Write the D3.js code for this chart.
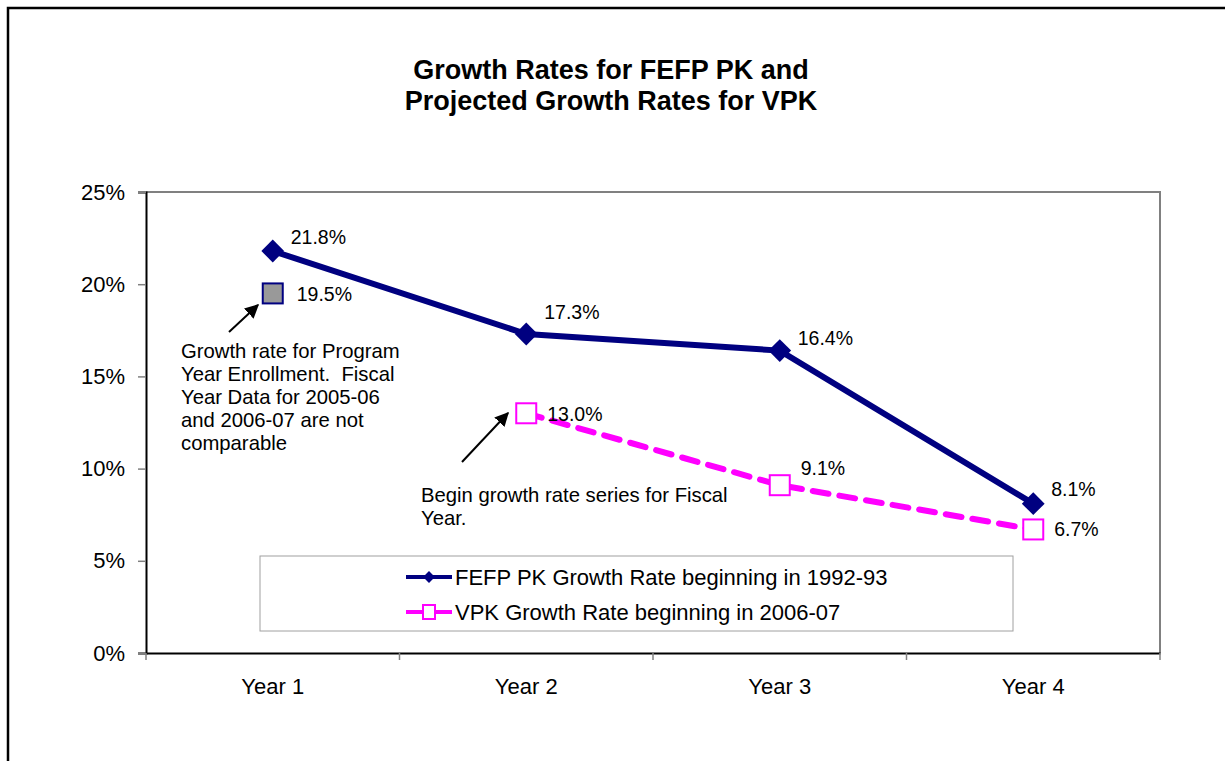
<!DOCTYPE html>
<html lang="en">
<head>
    <meta charset="UTF-8">
    <title>Growth Rates for FEFP PK and Projected Growth Rates for VPK</title>
    <script src="https://d3js.org/d3.v7.min.js"></script>
    <style>
        body { margin: 0; background: white; }
        text {
            font-family: 'Liberation Sans', Arial, sans-serif;
            fill: black;
            white-space: pre;
        }
    </style>
</head>
<body>
<script>
    const width = 1225;
    const height = 761;

    const years = ["Year 1", "Year 2", "Year 3", "Year 4"];
    const fefpRates = [21.8, 17.3, 16.4, 8.1];
    const vpkRates = [null, 13.0, 9.1, 6.7];
    const programYears = ["Year 1"];
    const programRates = [19.5];
    const yTicks = [0, 5, 10, 15, 20, 25];
    const seriesNames = ["FEFP PK Growth Rate beginning in 1992-93", "VPK Growth Rate beginning in 2006-07"];
    const titleLines = ["Growth Rates for FEFP PK and", "Projected Growth Rates for VPK"];
    const noteProgram = ["Growth rate for Program", "Year Enrollment.  Fiscal", "Year Data for 2005-06", "and 2006-07 are not", "comparable"];
    const noteFiscal = ["Begin growth rate series for Fiscal", "Year."];

    // label nudges (layout only)
    const fefpLabelDy = [-14, -22, -13, -15];
    const vpkLabelDy = [0, 1, -17, 0];

    const plot = {left: 146, right: 1160, top: 192, bottom: 653};
    const navy = "#000080";
    const pink = "#FF00FF";

    const svg = d3.select("body").append("svg").attr("width", width).attr("height", height);

    // outer frame
    svg.append("rect").attr("x", 8).attr("y", 8).attr("width", 1300).attr("height", 900)
        .attr("fill", "white").attr("stroke", "black").attr("stroke-width", 2.5);

    // title
    svg.append("g").selectAll("text").data(titleLines).join("text")
        .attr("x", 611).attr("y", (d, i) => 79 + i * 31)
        .attr("text-anchor", "middle")
        .style("font-weight", "bold").style("font-size", "27px")
        .text(d => d);

    const x = d3.scaleBand().domain(years).range([plot.left, plot.right]);
    const cx = d => x(d) + x.bandwidth() / 2;
    const y = d3.scaleLinear().domain([0, 25]).range([plot.bottom, plot.top]);

    // plot frame top/right gray
    svg.append("path")
        .attr("d", `M${plot.left},${plot.top}H${plot.right}V${plot.bottom}`)
        .attr("fill", "none").attr("stroke", "#808080").attr("stroke-width", 2);

    // y axis
    const yAxis = svg.append("g").attr("transform", `translate(${plot.left},0)`)
        .call(d3.axisLeft(y).tickValues(yTicks).tickFormat(d => d + "%").tickSize(8).tickPadding(13));
    yAxis.select(".domain").attr("stroke", "black").attr("stroke-width", 2);
    yAxis.selectAll(".tick line").attr("stroke", "#808080").attr("stroke-width", 1.5);
    yAxis.selectAll(".tick text").style("font-size", "22px").attr("font-family", null);

    // x axis
    const xAxis = svg.append("g").attr("transform", `translate(0,${plot.bottom})`)
        .call(d3.axisBottom(x).tickSize(0).tickPadding(25));
    xAxis.select(".domain").attr("stroke", "black").attr("stroke-width", 2);
    xAxis.selectAll(".tick text").style("font-size", "22px").attr("font-family", null);
    const bounds = years.map(d => x(d)).concat([x.range()[1]]);
    xAxis.selectAll(".bound").data(bounds).join("line")
        .attr("x1", d => d).attr("x2", d => d).attr("y1", 0).attr("y2", 7)
        .attr("stroke", "#808080").attr("stroke-width", 1.5);

    // arrow marker
    svg.append("defs").append("marker")
        .attr("id", "arrow").attr("viewBox", "0 0 10 10")
        .attr("refX", 9).attr("refY", 5)
        .attr("markerWidth", 14).attr("markerHeight", 14)
        .attr("markerUnits", "userSpaceOnUse")
        .attr("orient", "auto")
        .append("path").attr("d", "M0,0L10,5L0,10Z").attr("fill", "black");

    // VPK dashed line
    const vpkData = years.map((d, i) => ({year: d, value: vpkRates[i], i}));
    const line = d3.line().defined(d => d.value != null).x(d => cx(d.year)).y(d => y(d.value));
    svg.append("path").datum(vpkData).attr("d", line)
        .attr("fill", "none").attr("stroke", pink).attr("stroke-width", 6)
        .attr("stroke-dasharray", "16,11").attr("stroke-linecap", "round");

    // FEFP solid line
    const fefpData = years.map((d, i) => ({year: d, value: fefpRates[i], i}));
    svg.append("path").datum(fefpData).attr("d", line)
        .attr("fill", "none").attr("stroke", navy).attr("stroke-width", 6);

    // FEFP diamonds
    const diamond = d3.symbol().type(d3.symbolSquare).size(260);
    svg.selectAll(".fefp").data(fefpData).join("path")
        .attr("transform", d => `translate(${cx(d.year)},${y(d.value)}) rotate(45)`)
        .attr("d", diamond).attr("fill", navy);

    // VPK squares
    const vpkPts = vpkData.filter(d => d.value != null);
    svg.selectAll(".vpk").data(vpkPts).join("rect")
        .attr("x", d => cx(d.year) - 10).attr("y", d => y(d.value) - 10)
        .attr("width", 20).attr("height", 20)
        .attr("fill", "white").attr("stroke", pink).attr("stroke-width", 2);

    // program year point
    svg.selectAll(".prog").data(programYears).join("rect")
        .attr("x", (d) => cx(d) - 10).attr("y", (d, i) => y(programRates[i]) - 10)
        .attr("width", 20).attr("height", 20)
        .attr("fill", "#999999").attr("stroke", navy).attr("stroke-width", 2);

    // data labels
    const fmt = v => v.toFixed(1) + "%";
    svg.selectAll(".lf").data(fefpData).join("text")
        .attr("x", d => cx(d.year) + 18).attr("y", d => y(d.value) + fefpLabelDy[d.i])
        .attr("dominant-baseline", "central").style("font-size", "19.5px")
        .text(d => fmt(d.value));
    svg.selectAll(".lv").data(vpkPts).join("text")
        .attr("x", d => cx(d.year) + 21).attr("y", d => y(d.value) + vpkLabelDy[d.i])
        .attr("dominant-baseline", "central").style("font-size", "19.5px")
        .text(d => fmt(d.value));
    svg.selectAll(".lp").data(programYears).join("text")
        .attr("x", d => cx(d) + 24).attr("y", (d, i) => y(programRates[i]) + 1)
        .attr("dominant-baseline", "central").style("font-size", "19.5px")
        .text((d, i) => fmt(programRates[i]));

    // notes
    svg.append("g").selectAll("text").data(noteProgram).join("text")
        .attr("x", 181).attr("y", (d, i) => 358 + i * 23)
        .style("font-size", "20.3px").text(d => d);
    svg.append("g").selectAll("text").data(noteFiscal).join("text")
        .attr("x", 421).attr("y", (d, i) => 502 + i * 23)
        .style("font-size", "20.3px").text(d => d);

    svg.append("line").attr("x1", 229).attr("y1", 332).attr("x2", 258).attr("y2", 305)
        .attr("stroke", "black").attr("stroke-width", 2).attr("marker-end", "url(#arrow)");
    svg.append("line").attr("x1", 462).attr("y1", 462).attr("x2", 508).attr("y2", 413)
        .attr("stroke", "black").attr("stroke-width", 2).attr("marker-end", "url(#arrow)");

    // legend
    const legend = svg.append("g");
    legend.append("rect").attr("x", 260).attr("y", 556).attr("width", 753).attr("height", 75)
        .attr("fill", "white").attr("stroke", "#a0a0a0").attr("stroke-width", 1);
    const rows = legend.selectAll(".row").data(seriesNames).join("g")
        .attr("transform", (d, i) => `translate(0,${577 + i * 35})`);
    rows.append("line").attr("x1", 406).attr("x2", 452).attr("y1", 0).attr("y2", 0)
        .attr("stroke", (d, i) => i === 0 ? navy : pink).attr("stroke-width", 4);
    rows.filter((d, i) => i === 0).append("path")
        .attr("transform", "translate(429,0) rotate(45)")
        .attr("d", d3.symbol().type(d3.symbolSquare).size(70)).attr("fill", navy);
    rows.filter((d, i) => i === 1).append("rect")
        .attr("x", 423).attr("y", -7).attr("width", 12).attr("height", 14)
        .attr("fill", "white").attr("stroke", pink).attr("stroke-width", 2);
    rows.append("text").attr("x", 455).attr("y", 0).attr("dominant-baseline", "central")
        .style("font-size", "22px").text(d => d);
</script>
</body>
</html>
